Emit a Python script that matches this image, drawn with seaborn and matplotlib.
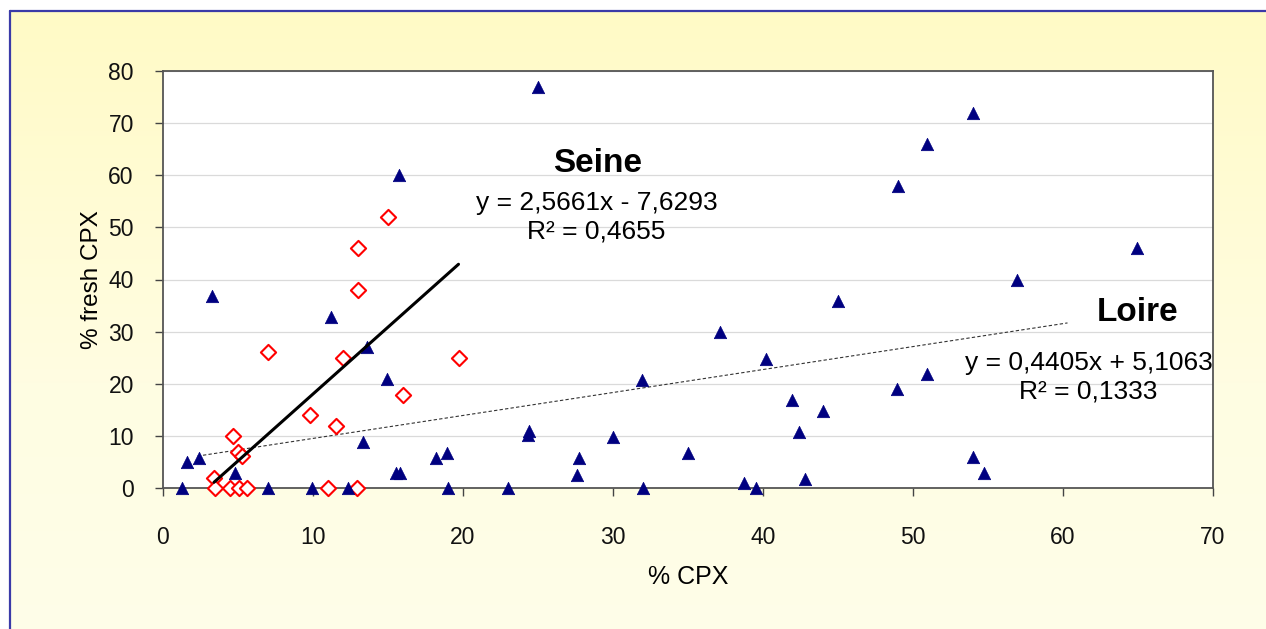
import numpy as np
import pandas as pd
import seaborn as sns
import matplotlib.pyplot as plt
from matplotlib.colors import LinearSegmentedColormap


# Loire samples (blue triangles)
LOIRE_X = [1.3, 1.6, 2.4, 3.3, 4.8, 7.0, 9.9, 11.2, 12.3, 13.3, 13.6, 14.9,
           15.7, 15.5, 15.8, 18.2, 18.9, 19.0, 23.0, 24.3, 24.4, 25.0, 27.6,
           27.7, 30.0, 31.9, 32.0, 35.0, 37.1, 38.7, 39.5, 40.2, 41.9, 42.4,
           42.8, 44.0, 45.0, 48.9, 49.0, 50.9, 50.9, 54.0, 54.0, 54.7, 56.9,
           64.9]
LOIRE_Y = [0, 5.0, 5.8, 36.8, 2.9, 0, 0, 32.8, 0, 8.8, 27.0, 20.9,
           60.0, 2.9, 2.9, 5.8, 6.7, 0, 0, 10.2, 11.0, 77.0, 2.5,
           5.8, 9.8, 20.7, 0, 6.7, 30.0, 1.0, 0, 24.8, 16.9, 10.8,
           1.7, 14.8, 35.8, 19.0, 58.0, 21.8, 65.9, 71.9, 5.9, 2.8, 40.0,
           46.0]

# Seine samples (red open diamonds)
SEINE_X = [3.4, 3.5, 4.5, 4.7, 5.0, 5.3, 5.1, 5.6, 7.0, 9.8, 11.0, 11.5,
           12.0, 12.9, 13.0, 13.0, 15.0, 16.0, 19.7]
SEINE_Y = [2.0, 0, 0, 10.0, 7.0, 6.1, 0, 0, 26.0, 14.0, 0, 11.9,
           25.0, 0, 46.0, 38.0, 52.0, 17.8, 25.0]

# trend lines as printed on the chart
SEINE_FIT = (2.5661, -7.6293, 0.4655)
LOIRE_FIT = (0.4405, 5.1063, 0.1333)
LOIRE_FIT_RANGE = (2.3, 60.3)

X_TICKS = [0, 10, 20, 30, 40, 50, 60, 70]
Y_TICKS = [0, 10, 20, 30, 40, 50, 60, 70, 80]

BLUE = "#000080"
RED = "#FF0000"
FONT = ["Liberation Sans", "Arial", "DejaVu Sans"]


def fmt(v):
    return f"{abs(v):.4f}".replace(".", ",")


def draw_background(fig):
    bg = fig.add_axes([0, 0, 1, 1], zorder=-10)
    cmap = LinearSegmentedColormap.from_list(
        "panel", ["#FFFAC6", "#FFFDE2", "#FEFEEC"])
    grad = np.linspace(0, 1, 256).reshape(-1, 1)
    left, top = 10 / 1266, 1 - 11 / 629
    bg.imshow(grad, aspect="auto", cmap=cmap,
              extent=[left, 1.2, -0.2, top], origin="upper")
    bg.plot([left, left], [-0.1, top], color="#3A3AA8", lw=1.6)
    bg.plot([left, 1.1], [top, top], color="#3A3AA8", lw=1.6)
    bg.set_xlim(0, 1)
    bg.set_ylim(0, 1)
    bg.axis("off")


def main():
    sns.set_theme(style="white")
    plt.rcParams.update({
        "font.family": FONT,
        "text.color": "black",
        "axes.labelcolor": "black",
        "xtick.color": "black",
        "ytick.color": "black",
    })

    fig = plt.figure(figsize=(12.66, 6.29), dpi=100)
    draw_background(fig)
    ax = fig.add_axes([163 / 1266, 1 - 488 / 629, 1050 / 1266, 417 / 629])
    ax.set_facecolor("white")

    loire = pd.DataFrame({"x": LOIRE_X, "y": LOIRE_Y})
    seine = pd.DataFrame({"x": SEINE_X, "y": SEINE_Y})

    sns.scatterplot(ax=ax, data=loire, x="x", y="y", marker="^", s=80,
                    color=BLUE, edgecolor=BLUE, linewidth=0.5, zorder=4,
                    clip_on=False)
    sns.scatterplot(ax=ax, data=seine, x="x", y="y", marker="D", s=60,
                    facecolor="white", edgecolor=RED, linewidth=1.5, zorder=3,
                    clip_on=False)

    a, b, _ = SEINE_FIT
    xs = np.array([min(SEINE_X), max(SEINE_X)])
    sns.lineplot(ax=ax, x=xs, y=a * xs + b, color="black", linewidth=2.2,
                 zorder=5)

    a, b, _ = LOIRE_FIT
    xl = np.array(LOIRE_FIT_RANGE)
    ax.plot(xl, a * xl + b, color="#333333", linewidth=0.8,
            linestyle=(0, (3, 2)), zorder=2)

    ax.set_xlim(X_TICKS[0], X_TICKS[-1])
    ax.set_ylim(Y_TICKS[0], Y_TICKS[-1])
    ax.set_xticks(X_TICKS)
    ax.set_yticks(Y_TICKS)
    ax.tick_params(axis="both", direction="out", length=6, width=1,
                   color="#444444", labelsize=16.5, labelcolor="#111111",
                   bottom=True, left=True)
    ax.tick_params(axis="x", pad=21)
    ax.tick_params(axis="y", pad=15)
    ax.set_xlabel("% CPX", fontsize=18, labelpad=12)
    ax.set_ylabel("% fresh CPX", fontsize=17.5, labelpad=4)
    ax.yaxis.grid(True, color="#DADADA", linewidth=0.9)
    ax.set_axisbelow(True)
    for sp in ax.spines.values():
        sp.set_visible(True)
        sp.set_color("#555555")
        sp.set_linewidth(1.3)

    sa, sb, sr = SEINE_FIT
    la, lb, lr = LOIRE_FIT
    ax.text(29.0, 62.3, "Seine", fontsize=24, fontweight="bold",
            ha="center", va="center")
    ax.text(28.9, 54.6, f"y = {fmt(sa)}x - {fmt(sb)}", fontsize=19,
            ha="center", va="center")
    ax.text(28.9, 49.3, f"R² = {fmt(sr)}", fontsize=19,
            ha="center", va="center")
    ax.text(65.0, 33.7, "Loire", fontsize=24, fontweight="bold",
            ha="center", va="center")
    ax.text(61.7, 24.0, f"y = {fmt(la)}x + {fmt(lb)}", fontsize=19,
            ha="center", va="center")
    ax.text(61.7, 18.6, f"R² = {fmt(lr)}", fontsize=19,
            ha="center", va="center")

    fig.savefig("out.png", dpi=100)


if __name__ == "__main__":
    main()
